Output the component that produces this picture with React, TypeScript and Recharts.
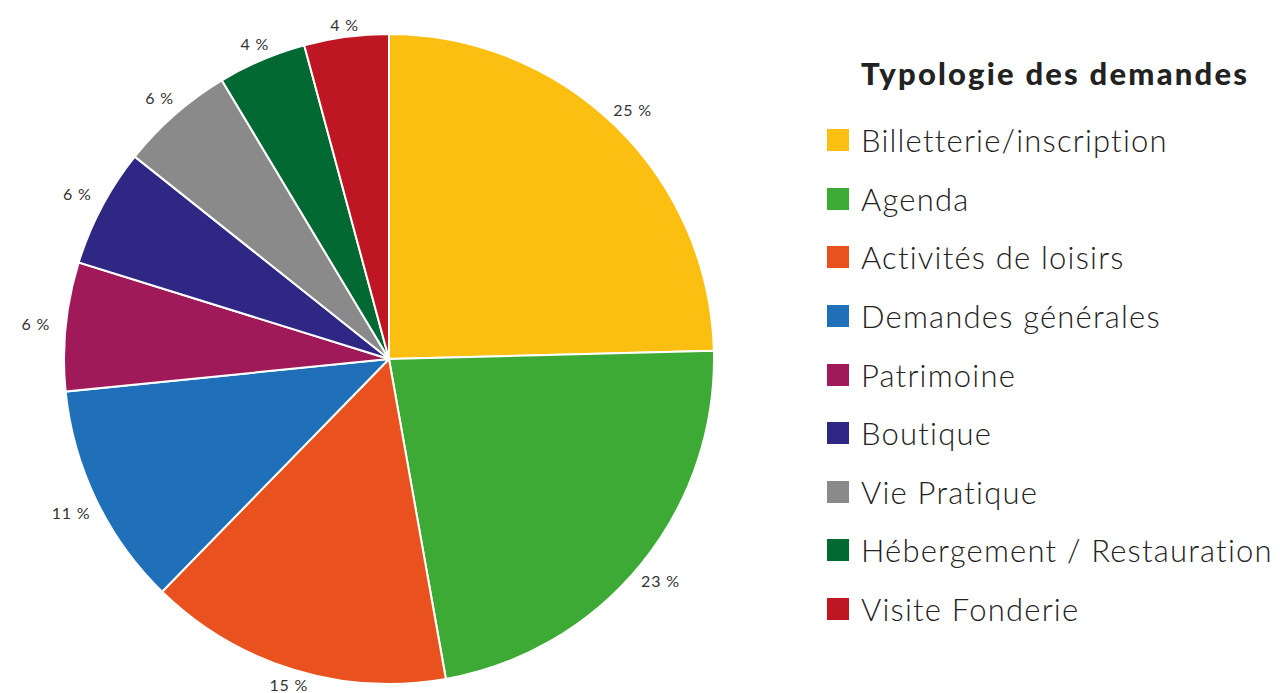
import React from "react";
import { PieChart, Pie, Cell } from "recharts";

const categories = [
  "Billetterie/inscription",
  "Agenda",
  "Activités de loisirs",
  "Demandes générales",
  "Patrimoine",
  "Boutique",
  "Vie Pratique",
  "Hébergement / Restauration",
  "Visite Fonderie",
];
const shares = [24.6, 22.6, 15.1, 11.1, 6.4, 5.9, 5.7, 4.4, 4.2];
const colors = [
  "#FBBF12",
  "#3DAA35",
  "#E9521E",
  "#1F70B8",
  "#A01A5A",
  "#2E2884",
  "#8A8A8A",
  "#036933",
  "#BE1622",
];
const legendTitle = "Typologie des demandes";

const data = categories.map((name, i) => ({ name, value: shares[i] }));

const RADIAN = Math.PI / 180;
const FONT = "Lato, 'Noto Sans', sans-serif";

const renderLabel = (props: any) => {
  const { cx, cy, midAngle, outerRadius, percent } = props;
  const c = Math.cos(-midAngle * RADIAN);
  const s = Math.sin(-midAngle * RADIAN);
  const r = outerRadius + 10 + 20 * Math.abs(c);
  const x = cx + r * c;
  const y = cy + r * s;
  return (
    <text
      x={x}
      y={y}
      textAnchor="middle"
      dominantBaseline="central"
      fill="#333"
      fontSize={16}
      fontWeight={400}
      letterSpacing={0.8}
      fontFamily={FONT}
    >
      {Math.round(percent * 100) + " %"}
    </text>
  );
};

export default function App() {
  return (
    <div style={{ position: "relative", width: 1264, height: 685 }}>
      <PieChart width={1264} height={685} margin={{ top: 0, right: 0, bottom: 0, left: 0 }}>
        <Pie
          data={data}
          dataKey="value"
          nameKey="name"
          cx={381}
          cy={351}
          outerRadius={325}
          startAngle={90}
          endAngle={-270}
          stroke="#fff"
          strokeWidth={2}
          label={renderLabel}
          labelLine={false}
          isAnimationActive={false}
        >
          {data.map((d, i) => (
            <Cell key={d.name} fill={colors[i]} />
          ))}
        </Pie>
      </PieChart>
      <div
        style={{
          position: "absolute",
          left: 819,
          top: 45,
          fontFamily: FONT,
          color: "#222",
        }}
      >
        <div
          style={{
            fontSize: 31,
            fontWeight: 900,
            letterSpacing: 2.2,
            marginLeft: 34,
            height: 40,
            lineHeight: "40px",
            whiteSpace: "nowrap",
          }}
        >
          {legendTitle}
        </div>
        <div style={{ marginTop: 18 }}>
          {categories.map((c, i) => (
            <div
              key={c}
              style={{
                display: "flex",
                alignItems: "center",
                height: 58.6,
              }}
            >
              <div
                style={{
                  width: 22,
                  height: 22,
                  background: colors[i],
                  marginRight: 12,
                }}
              />
              <span style={{ fontSize: 31, fontWeight: 300, letterSpacing: 1.2, whiteSpace: "nowrap" }}>{c}</span>
            </div>
          ))}
        </div>
      </div>
    </div>
  );
}
